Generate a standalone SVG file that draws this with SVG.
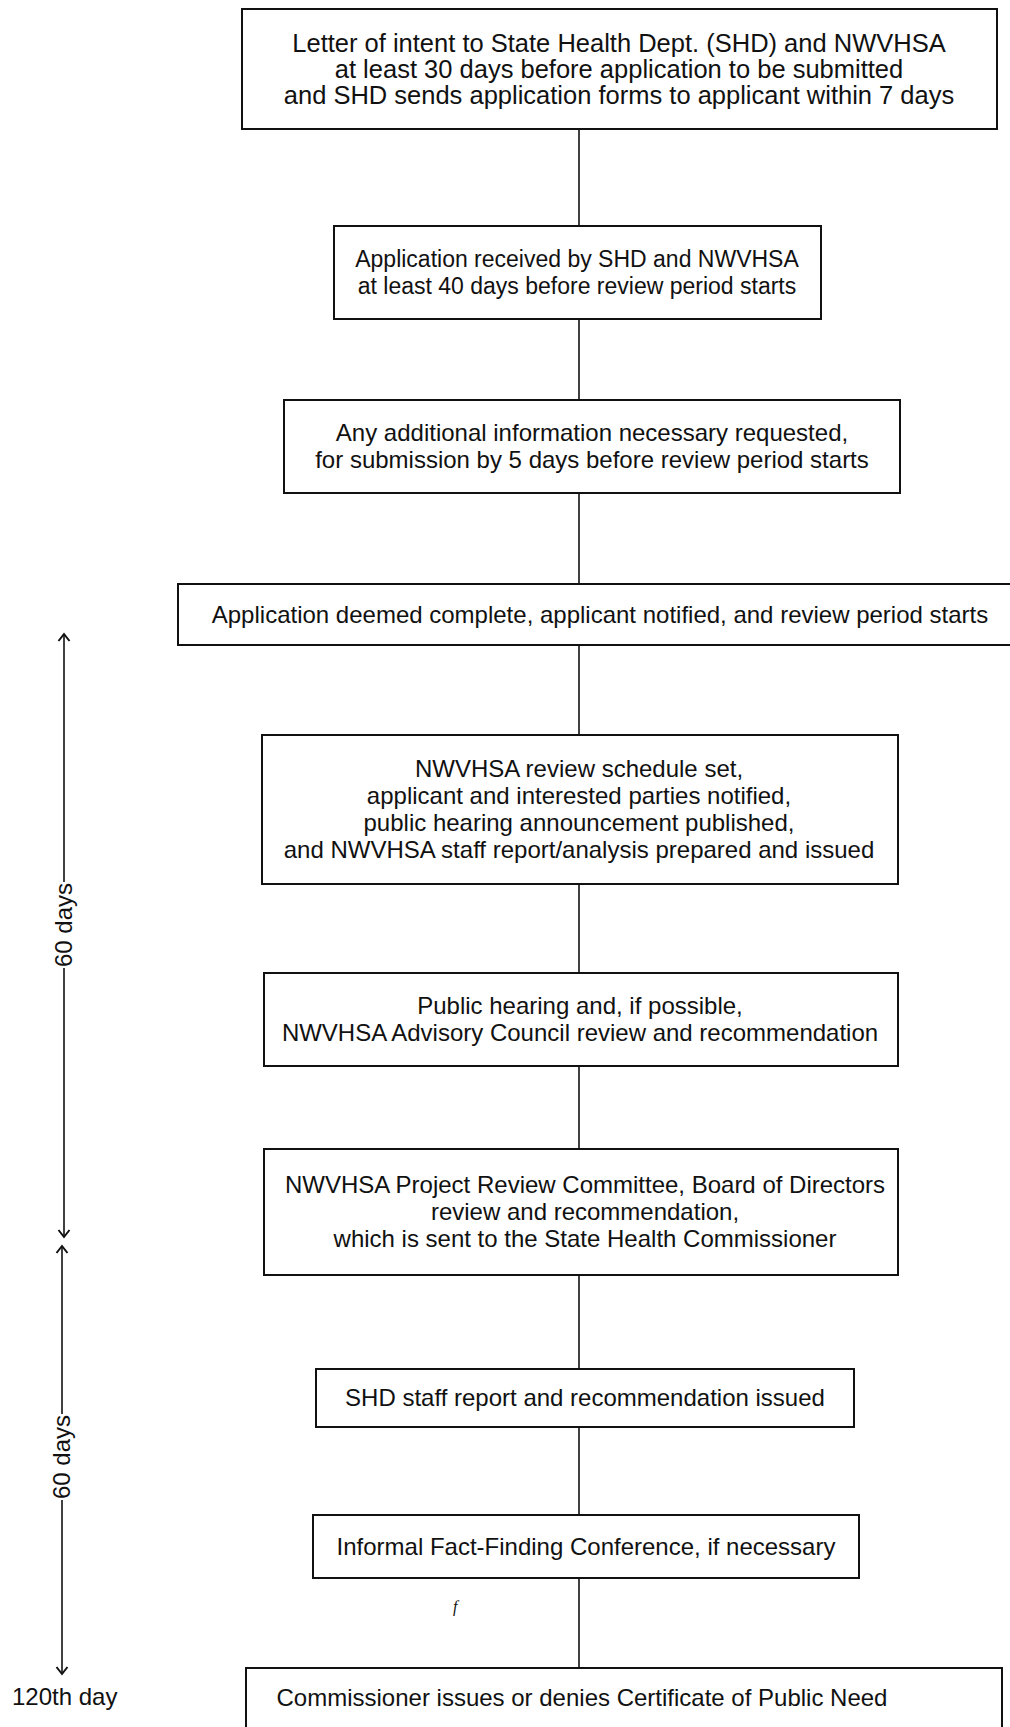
<svg xmlns="http://www.w3.org/2000/svg" width="1010" height="1727" viewBox="0 0 1010 1727">
<style>
  .box { fill: #ffffff; stroke: #111111; stroke-width: 2; }
  .t { font-family: "Liberation Sans", Arial, sans-serif; font-size: 24px; fill: #111111; text-anchor: middle; }
  .tl { font-family: "Liberation Sans", Arial, sans-serif; font-size: 24px; fill: #111111; }
  .big { font-size: 25.5px; }
  .small { font-size: 23px; }
  .conn { stroke: #111111; stroke-width: 1.6; fill: none; }
</style>
<defs>
  <marker id="chev" viewBox="0 0 12 14" refX="10" refY="7" markerWidth="12" markerHeight="14" markerUnits="userSpaceOnUse" orient="auto-start-reverse">
    <path d="M3,1.5 L10,7 L3,12.5" fill="none" stroke="#111111" stroke-width="2"/>
  </marker>
</defs>
<rect width="1010" height="1727" fill="#ffffff"/>

<g id="connectors">
  <line class="conn" x1="579" y1="129" x2="579" y2="226"/>
  <line class="conn" x1="579" y1="319" x2="579" y2="400"/>
  <line class="conn" x1="579" y1="493" x2="579" y2="584"/>
  <line class="conn" x1="579" y1="645" x2="579" y2="735"/>
  <line class="conn" x1="579" y1="884" x2="579" y2="973"/>
  <line class="conn" x1="579" y1="1066" x2="579" y2="1149"/>
  <line class="conn" x1="579" y1="1275" x2="579" y2="1369"/>
  <line class="conn" x1="579" y1="1427" x2="579" y2="1515"/>
  <line class="conn" x1="579" y1="1578" x2="579" y2="1668"/>
</g>

<g id="timescale">
  <line class="conn" x1="64" y1="634" x2="64" y2="882" marker-start="url(#chev)"/>
  <line class="conn" x1="64" y1="968" x2="64" y2="1237" marker-end="url(#chev)"/>
  <text class="t" transform="translate(72,925) rotate(-90)">60 days</text>
  <line class="conn" x1="62" y1="1246" x2="62" y2="1414" marker-start="url(#chev)"/>
  <line class="conn" x1="62" y1="1500" x2="62" y2="1674" marker-end="url(#chev)"/>
  <text class="t" transform="translate(70,1457) rotate(-90)">60 days</text>
  <text class="tl" x="12" y="1705">120th day</text>
</g>

<g id="n1">
  <rect class="box" x="242" y="9" width="755" height="120"/>
  <text class="t big" x="619" y="52">Letter of intent to State Health Dept. (SHD) and NWVHSA</text>
  <text class="t big" x="619" y="78">at least 30 days before application to be submitted</text>
  <text class="t big" x="619" y="104">and SHD sends application forms to applicant within 7 days</text>
</g>

<g id="n2">
  <rect class="box" x="334" y="226" width="487" height="93"/>
  <text class="t small" x="577" y="267">Application received by SHD and NWVHSA</text>
  <text class="t small" x="577" y="294">at least 40 days before review period starts</text>
</g>

<g id="n3">
  <rect class="box" x="284" y="400" width="616" height="93"/>
  <text class="t" x="592" y="441">Any additional information necessary requested,</text>
  <text class="t" x="592" y="468">for submission by 5 days before review period starts</text>
</g>

<g id="n4">
  <rect class="box" x="178" y="584" width="836" height="61"/>
  <text class="t" x="600" y="623">Application deemed complete, applicant notified, and review period starts</text>
</g>

<g id="n5">
  <rect class="box" x="262" y="735" width="636" height="149"/>
  <text class="t" x="579" y="777">NWVHSA review schedule set,</text>
  <text class="t" x="579" y="804">applicant and interested parties notified,</text>
  <text class="t" x="579" y="831">public hearing announcement published,</text>
  <text class="t" x="579" y="858">and NWVHSA staff report/analysis prepared and issued</text>
</g>

<g id="n6">
  <rect class="box" x="264" y="973" width="634" height="93"/>
  <text class="t" x="580" y="1014">Public hearing and, if possible,</text>
  <text class="t" x="580" y="1041">NWVHSA Advisory Council review and recommendation</text>
</g>

<g id="n7">
  <rect class="box" x="264" y="1149" width="634" height="126"/>
  <text class="t" x="585" y="1193">NWVHSA Project Review Committee, Board of Directors</text>
  <text class="t" x="585" y="1220">review and recommendation,</text>
  <text class="t" x="585" y="1247">which is sent to the State Health Commissioner</text>
</g>

<g id="n8">
  <rect class="box" x="316" y="1369" width="538" height="58"/>
  <text class="t" x="585" y="1406">SHD staff report and recommendation issued</text>
</g>

<g id="n9">
  <rect class="box" x="313" y="1515" width="546" height="63"/>
  <text class="t" x="586" y="1555">Informal Fact-Finding Conference, if necessary</text>
</g>

<text x="453" y="1612" font-family="'Liberation Serif', serif" font-style="italic" font-size="16" fill="#111111">f</text>

<g id="n10">
  <rect class="box" x="246" y="1668" width="756" height="80"/>
  <text class="t" x="582" y="1706">Commissioner issues or denies Certificate of Public Need</text>
</g>
</svg>
